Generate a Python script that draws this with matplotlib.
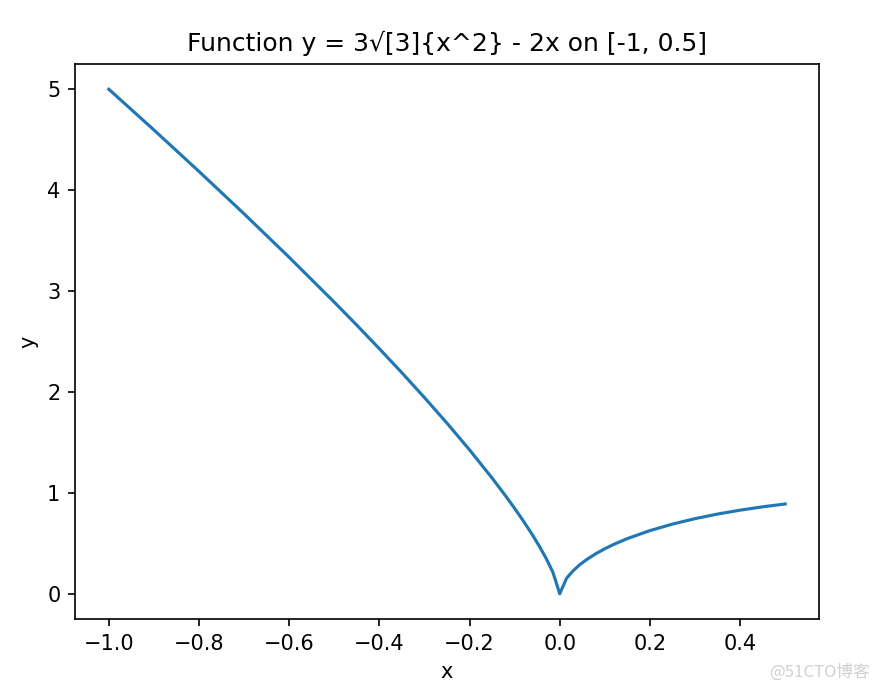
import matplotlib
matplotlib.use("Agg")
import matplotlib.pyplot as plt

x_vals = [-1.0, -0.9, -0.8, -0.7, -0.6, -0.5, -0.45, -0.4, -0.35, -0.3, -0.25,
          -0.2, -0.15, -0.12, -0.1, -0.08, -0.06, -0.045, -0.03, -0.01515, 0.0,
          0.01515, 0.03, 0.045, 0.06, 0.08, 0.1, 0.12, 0.15, 0.2, 0.25, 0.3,
          0.35, 0.4, 0.45, 0.5]
y_vals = [5.0, 4.5965, 4.1853, 3.7651, 3.3341, 2.8899, 2.6617, 2.4286, 2.1900,
          1.9444, 1.6906, 1.4260, 1.1469, 0.9699, 0.8463, 0.7170, 0.5798,
          0.4696, 0.3496, 0.2140, 0.0, 0.1534, 0.2296, 0.2896, 0.3398, 0.3970,
          0.4463, 0.4899, 0.5469, 0.6260, 0.6906, 0.7444, 0.7900, 0.8286,
          0.8617, 0.8899]

title = "Function y = 3√[3]{x^2} - 2x on [-1, 0.5]"

dpi = 150
W, H = 881, 690
fig = plt.figure(figsize=(W / dpi, H / dpi), dpi=dpi)
ax = fig.add_axes([75 / W, 1 - 619 / H, (819 - 75) / W, (619 - 64) / H])
ax.plot(x_vals, y_vals, color="#1f77b4")
ax.set_title(title)
ax.set_xlabel("x")
ax.set_ylabel("y")
fig.text(870 / W, 1 - 672 / H, "@51CTO博客", ha="right", va="center",
         color="#d0d0d0", fontsize=8,
         family=["Noto Sans CJK SC", "DejaVu Sans"])
fig.savefig("out.png", dpi=dpi)
